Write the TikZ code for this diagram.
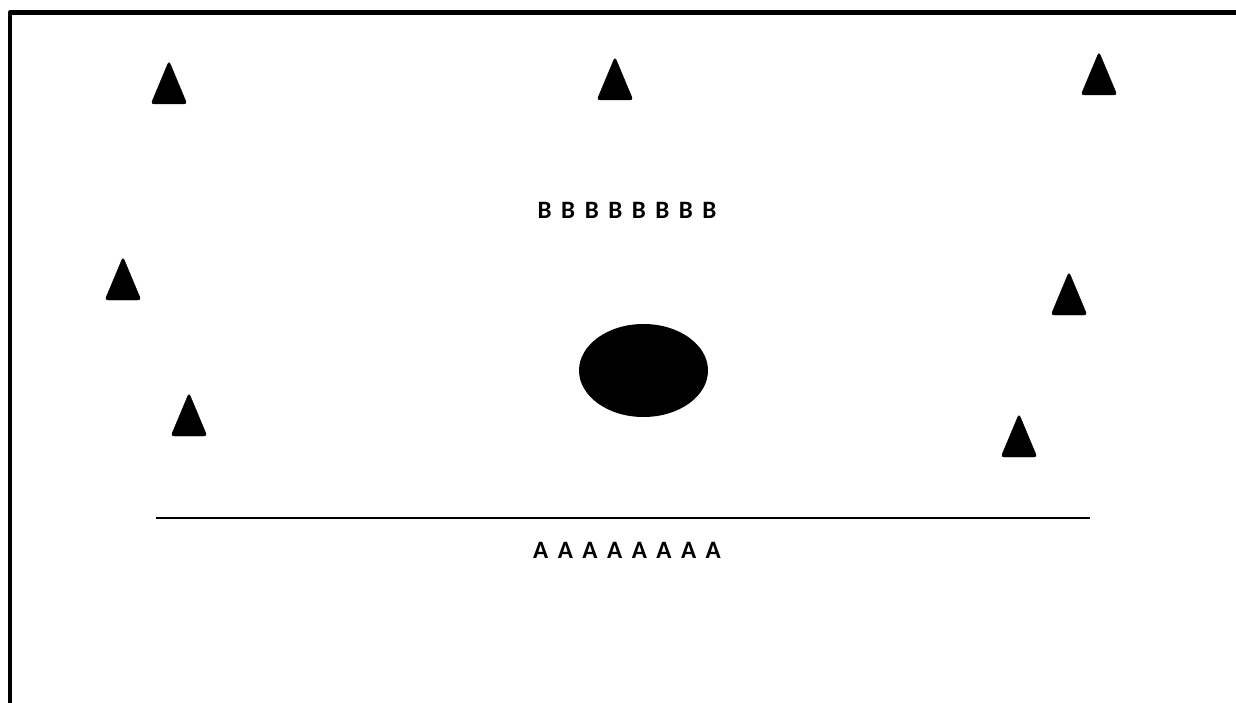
\documentclass[tikz,border=0pt]{standalone}
\usepackage{fontspec}
\setmainfont{Carlito}
\newcommand\rowgap{\spaceskip=9.5pt\relax}
\tikzset{
  cone/.style={fill=black, rounded corners=3pt},
  rowlabel/.style={font=\bfseries\fontsize{25}{30}\selectfont\rowgap, inner sep=0pt}
}
\begin{document}
\begin{tikzpicture}[x=1pt, y=-1pt]
  \useasboundingbox (0,0) rectangle (1236,703);
  \clip (0,0) rectangle (1236,703);
  % frame
  \draw[line width=4.5pt, line join=round] (9.8,720) -- (9.8,12.5) -- (1250,12.5);
  % cones
  \foreach \bx/\by in {169/104, 615/100, 1099/95, 123/300, 1069/315, 189/436, 1019/457}
    \draw[cone] (\bx-18,\by) -- (\bx,\by-43) -- (\bx+18,\by) -- cycle;
  % ball
  \fill (643.5,370.5) ellipse [x radius=64.5, y radius=46.5];
  % labels and line
  \node[rowlabel] (brow) at (627,210) {B B B B B B B B};
  \draw[line width=1.5pt] (156,518) -- (1090,518);
  \node[rowlabel] (arow) at (627,550) {A A A A A A A A};
\end{tikzpicture}
\end{document}
